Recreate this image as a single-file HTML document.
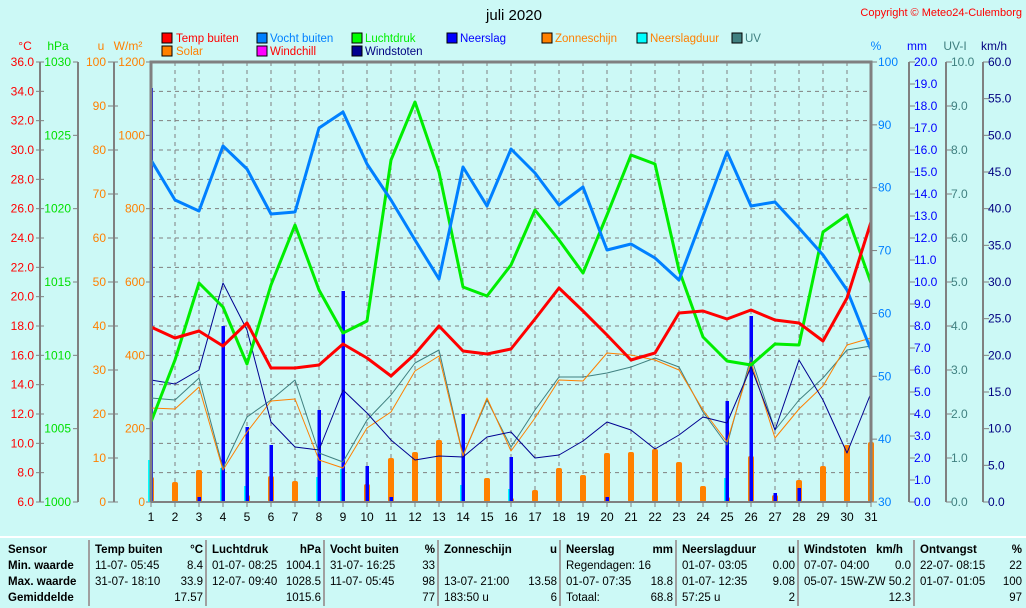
<!DOCTYPE html>
<html><head><meta charset="utf-8"><style>
body{margin:0;background:#ccf9f6;width:1026px;height:608px;overflow:hidden;font-family:"Liberation Sans",Arial,sans-serif}
svg{position:absolute;left:0;top:0}
.tb{position:absolute;left:0;top:536px;width:1026px;height:72px;font-size:11.5px}
.col{position:absolute;top:4px;height:66px;border-left:2px solid #a0a0a0}
.r{position:absolute;white-space:nowrap}
</style></head><body>
<svg width="1026" height="608" font-family="Liberation Sans, Arial, sans-serif" font-size="12">
<text x="514" y="20" font-size="15" text-anchor="middle">juli 2020</text>
<text x="1022" y="16" font-size="11" fill="#ff0000" text-anchor="end">Copyright © Meteo24-Culemborg</text>
<g font-size="11.5">
<rect x="162" y="33" width="10" height="10" fill="#ff0000" stroke="#000"/><text x="176" y="42" fill="#ff0000">Temp buiten</text>
<rect x="257" y="33" width="10" height="10" fill="#0080ff" stroke="#000"/><text x="270" y="42" fill="#0080ff">Vocht buiten</text>
<rect x="352" y="33" width="10" height="10" fill="#00ff00" stroke="#000"/><text x="365" y="42" fill="#00ee00">Luchtdruk</text>
<rect x="447" y="33" width="10" height="10" fill="#0000ff" stroke="#000"/><text x="460" y="42" fill="#0000ff">Neerslag</text>
<rect x="542" y="33" width="10" height="10" fill="#ff8000" stroke="#000"/><text x="555" y="42" fill="#ff8000">Zonneschijn</text>
<rect x="637" y="33" width="10" height="10" fill="#00ffff" stroke="#000"/><text x="650" y="42" fill="#ff8000">Neerslagduur</text>
<rect x="732" y="33" width="10" height="10" fill="#408080" stroke="#000"/><text x="745" y="42" fill="#408080">UV</text>
<rect x="162" y="46" width="10" height="10" fill="#ff8000" stroke="#000"/><text x="176" y="55" fill="#ff8000">Solar</text>
<rect x="257" y="46" width="10" height="10" fill="#ff00ff" stroke="#000"/><text x="270" y="55" fill="#ff0000">Windchill</text>
<rect x="352" y="46" width="10" height="10" fill="#000090" stroke="#000"/><text x="365" y="55" fill="#000080">Windstoten</text>
</g>
<g font-size="12">
<text x="25" y="50" fill="#ff0000" text-anchor="middle">°C</text>
<text x="58" y="50" fill="#00e000" text-anchor="middle">hPa</text>
<text x="101" y="50" fill="#ff8000" text-anchor="middle">u</text>
<text x="128" y="50" fill="#ff8000" text-anchor="middle">W/m²</text>
<text x="876" y="50" fill="#0080ff" text-anchor="middle">%</text>
<text x="917" y="50" fill="#0000ff" text-anchor="middle">mm</text>
<text x="955" y="50" fill="#408080" text-anchor="middle">UV-I</text>
<text x="994" y="50" fill="#000080" text-anchor="middle">km/h</text>
</g>
<g id="g"></g>
<g font-size="12" fill="#ff0000" text-anchor="end">
<text x="34" y="66">36.0</text><text x="34" y="95.3">34.0</text><text x="34" y="124.7">32.0</text><text x="34" y="154">30.0</text><text x="34" y="183.3">28.0</text><text x="34" y="212.7">26.0</text><text x="34" y="242">24.0</text><text x="34" y="271.3">22.0</text><text x="34" y="300.7">20.0</text><text x="34" y="330">18.0</text><text x="34" y="359.3">16.0</text><text x="34" y="388.7">14.0</text><text x="34" y="418">12.0</text><text x="34" y="447.3">10.0</text><text x="34" y="476.7">8.0</text><text x="34" y="506">6.0</text>
</g>
<g font-size="12" fill="#00e000" text-anchor="end">
<text x="71" y="66">1030</text><text x="71" y="139.3">1025</text><text x="71" y="212.7">1020</text><text x="71" y="286">1015</text><text x="71" y="359.3">1010</text><text x="71" y="432.7">1005</text><text x="71" y="506">1000</text>
</g>
<g font-size="12" fill="#ff8000" text-anchor="end">
<text x="106" y="66">100</text><text x="106" y="110">90</text><text x="106" y="154">80</text><text x="106" y="198">70</text><text x="106" y="242">60</text><text x="106" y="286">50</text><text x="106" y="330">40</text><text x="106" y="374">30</text><text x="106" y="418">20</text><text x="106" y="462">10</text><text x="106" y="506">0</text>
<text x="145" y="66">1200</text><text x="145" y="139.3">1000</text><text x="145" y="212.7">800</text><text x="145" y="286">600</text><text x="145" y="359.3">400</text><text x="145" y="432.7">200</text><text x="145" y="506">0</text>
</g>
<g font-size="12" fill="#0080ff">
<text x="878" y="66">100</text><text x="878" y="128.9">90</text><text x="878" y="191.7">80</text><text x="878" y="254.6">70</text><text x="878" y="317.4">60</text><text x="878" y="380.3">50</text><text x="878" y="443.1">40</text><text x="878" y="506">30</text>
</g>
<g font-size="12" fill="#0000ff">
<text x="914" y="66">20.0</text><text x="914" y="88">19.0</text><text x="914" y="110">18.0</text><text x="914" y="132">17.0</text><text x="914" y="154">16.0</text><text x="914" y="176">15.0</text><text x="914" y="198">14.0</text><text x="914" y="220">13.0</text><text x="914" y="242">12.0</text><text x="914" y="264">11.0</text><text x="914" y="286">10.0</text><text x="914" y="308">9.0</text><text x="914" y="330">8.0</text><text x="914" y="352">7.0</text><text x="914" y="374">6.0</text><text x="914" y="396">5.0</text><text x="914" y="418">4.0</text><text x="914" y="440">3.0</text><text x="914" y="462">2.0</text><text x="914" y="484">1.0</text><text x="914" y="506">0.0</text>
</g>
<g font-size="12" fill="#408080">
<text x="951" y="66">10.0</text><text x="951" y="110">9.0</text><text x="951" y="154">8.0</text><text x="951" y="198">7.0</text><text x="951" y="242">6.0</text><text x="951" y="286">5.0</text><text x="951" y="330">4.0</text><text x="951" y="374">3.0</text><text x="951" y="418">2.0</text><text x="951" y="462">1.0</text><text x="951" y="506">0.0</text>
</g>
<g font-size="12" fill="#000080">
<text x="988" y="66">60.0</text><text x="988" y="102.7">55.0</text><text x="988" y="139.3">50.0</text><text x="988" y="176">45.0</text><text x="988" y="212.7">40.0</text><text x="988" y="249.3">35.0</text><text x="988" y="286">30.0</text><text x="988" y="322.7">25.0</text><text x="988" y="359.3">20.0</text><text x="988" y="396">15.0</text><text x="988" y="432.7">10.0</text><text x="988" y="469.3">5.0</text><text x="988" y="506">0.0</text>
</g>
<g font-size="12" text-anchor="middle">
<text x="151" y="521">1</text><text x="175" y="521">2</text><text x="199" y="521">3</text><text x="223" y="521">4</text><text x="247" y="521">5</text><text x="271" y="521">6</text><text x="295" y="521">7</text><text x="319" y="521">8</text><text x="343" y="521">9</text><text x="367" y="521">10</text><text x="391" y="521">11</text><text x="415" y="521">12</text><text x="439" y="521">13</text><text x="463" y="521">14</text><text x="487" y="521">15</text><text x="511" y="521">16</text><text x="535" y="521">17</text><text x="559" y="521">18</text><text x="583" y="521">19</text><text x="607" y="521">20</text><text x="631" y="521">21</text><text x="655" y="521">22</text><text x="679" y="521">23</text><text x="703" y="521">24</text><text x="727" y="521">25</text><text x="751" y="521">26</text><text x="775" y="521">27</text><text x="799" y="521">28</text><text x="823" y="521">29</text><text x="847" y="521">30</text><text x="871" y="521">31</text>
</g>
</svg>
<div class="tb">
<div style="position:absolute;left:0;top:0;width:1026px;border-top:2px solid #fff"></div>
<div class="r" style="left:8px;top:8px;font-weight:bold">Sensor</div>
<div class="r" style="left:8px;top:24px;font-weight:bold">Min. waarde</div>
<div class="r" style="left:8px;top:40px;font-weight:bold">Max. waarde</div>
<div class="r" style="left:8px;top:56px;font-weight:bold">Gemiddelde</div>
<div class="col" style="left:88px;width:115px">
<div class="r" style="left:5px;top:4px;font-weight:bold">Temp buiten</div><div class="r" style="right:2px;top:4px;font-weight:bold">°C</div>
<div class="r" style="left:5px;top:20px">11-07- 05:45</div><div class="r" style="right:2px;top:20px">8.4</div>
<div class="r" style="left:5px;top:36px">31-07- 18:10</div><div class="r" style="right:2px;top:36px">33.9</div>
<div class="r" style="right:2px;top:52px">17.57</div></div>
<div class="col" style="left:205px;width:116px">
<div class="r" style="left:5px;top:4px;font-weight:bold">Luchtdruk</div><div class="r" style="right:2px;top:4px;font-weight:bold">hPa</div>
<div class="r" style="left:5px;top:20px">01-07- 08:25</div><div class="r" style="right:2px;top:20px">1004.1</div>
<div class="r" style="left:5px;top:36px">12-07- 09:40</div><div class="r" style="right:2px;top:36px">1028.5</div>
<div class="r" style="right:2px;top:52px">1015.6</div></div>
<div class="col" style="left:323px;width:112px">
<div class="r" style="left:5px;top:4px;font-weight:bold">Vocht buiten</div><div class="r" style="right:2px;top:4px;font-weight:bold">%</div>
<div class="r" style="left:5px;top:20px">31-07- 16:25</div><div class="r" style="right:2px;top:20px">33</div>
<div class="r" style="left:5px;top:36px">11-07- 05:45</div><div class="r" style="right:2px;top:36px">98</div>
<div class="r" style="right:2px;top:52px">77</div></div>
<div class="col" style="left:437px;width:120px">
<div class="r" style="left:5px;top:4px;font-weight:bold">Zonneschijn</div><div class="r" style="right:2px;top:4px;font-weight:bold">u</div>
<div class="r" style="left:5px;top:36px">13-07- 21:00</div><div class="r" style="right:2px;top:36px">13.58</div>
<div class="r" style="left:5px;top:52px">183:50 u</div><div class="r" style="right:2px;top:52px">6</div></div>
<div class="col" style="left:559px;width:114px">
<div class="r" style="left:5px;top:4px;font-weight:bold">Neerslag</div><div class="r" style="right:2px;top:4px;font-weight:bold">mm</div>
<div class="r" style="left:5px;top:20px">Regendagen: 16</div>
<div class="r" style="left:5px;top:36px">01-07- 07:35</div><div class="r" style="right:2px;top:36px">18.8</div>
<div class="r" style="left:5px;top:52px">Totaal:</div><div class="r" style="right:2px;top:52px">68.8</div></div>
<div class="col" style="left:675px;width:120px">
<div class="r" style="left:5px;top:4px;font-weight:bold">Neerslagduur</div><div class="r" style="right:2px;top:4px;font-weight:bold">u</div>
<div class="r" style="left:5px;top:20px">01-07- 03:05</div><div class="r" style="right:2px;top:20px">0.00</div>
<div class="r" style="left:5px;top:36px">01-07- 12:35</div><div class="r" style="right:2px;top:36px">9.08</div>
<div class="r" style="left:5px;top:52px">57:25 u</div><div class="r" style="right:2px;top:52px">2</div></div>
<div class="col" style="left:797px;width:114px">
<div class="r" style="left:5px;top:4px;font-weight:bold">Windstoten&nbsp;&nbsp; km/h</div>
<div class="r" style="left:5px;top:20px">07-07- 04:00</div><div class="r" style="right:2px;top:20px">0.0</div>
<div class="r" style="left:5px;top:36px">05-07- 15W-ZW 50.2</div>
<div class="r" style="right:2px;top:52px">12.3</div></div>
<div class="col" style="left:913px;width:109px">
<div class="r" style="left:5px;top:4px;font-weight:bold">Ontvangst</div><div class="r" style="right:2px;top:4px;font-weight:bold">%</div>
<div class="r" style="left:5px;top:20px">22-07- 08:15</div><div class="r" style="right:2px;top:20px">22</div>
<div class="r" style="left:5px;top:36px">01-07- 01:05</div><div class="r" style="right:2px;top:36px">100</div>
<div class="r" style="right:2px;top:52px">97</div></div>
</div>
<script>
var g=document.getElementById('g'),s='';
function X(d){return 151+(d-1)*24;}
for(var d=2;d<=30;d++)s+='<line x1="'+X(d)+'" y1="62" x2="'+X(d)+'" y2="502" stroke="#808080" stroke-dasharray="4,4"/>';
for(var i=1;i<15;i++){var y=62+i*440/15;s+='<line x1="151" y1="'+y+'" x2="871" y2="'+y+'" stroke="#808080" stroke-dasharray="4,4"/>';}
function ax(x,step,n,dir){var t='<line x1="'+x+'" y1="62" x2="'+x+'" y2="502" stroke="#808080" stroke-width="2"/>';for(var i=0;i<=n;i++){var y=62+i*step;t+='<line x1="'+(dir<0?x-6:x)+'" y1="'+y+'" x2="'+(dir<0?x:x+6)+'" y2="'+y+'" stroke="#808080"/>';}return t;}
s+=ax(909,22,20,1)+ax(946,44,10,1)+ax(983,440/12,12,1);
s+='<line x1="40" y1="62" x2="40" y2="502" stroke="#808080" stroke-width="2"/><line x1="78" y1="62" x2="78" y2="502" stroke="#808080" stroke-width="2"/><line x1="114" y1="62" x2="114" y2="502" stroke="#808080" stroke-width="2"/>';
for(var i=0;i<=15;i++){var y=62+i*440/15;s+='<line x1="36" y1="'+y+'" x2="44" y2="'+y+'" stroke="#808080"/>';}
for(var i=0;i<=6;i++){var y=62+i*440/6;s+='<line x1="73" y1="'+y+'" x2="78" y2="'+y+'" stroke="#808080"/><line x1="146" y1="'+y+'" x2="151" y2="'+y+'" stroke="#808080"/>';}
for(var i=0;i<=10;i++){var y=62+i*44;s+='<line x1="108" y1="'+y+'" x2="118" y2="'+y+'" stroke="#808080"/>';}
for(var i=0;i<=7;i++){var y=62+i*440/7;s+='<line x1="871" y1="'+y+'" x2="877" y2="'+y+'" stroke="#808080"/>';}
for(var i=0;i<=30;i++)s+='<line x1="'+X(i+1)+'" y1="502" x2="'+X(i+1)+'" y2="507" stroke="#808080"/>';
var orn={1:477,2:482,3:470,5:495,6:476,7:481,10:484,11:458,12:452,13:440,15:478,16:498,17:490,18:468,19:475,20:453,21:452,22:449,23:462,24:486,25:497,26:456,27:495,28:480,29:466,30:445,31:442};
for(var k in orn)s+='<rect x="'+(X(+k)-3)+'" y="'+orn[k]+'" width="6" height="'+(502-orn[k])+'" rx="2" fill="#ff8000"/>';
var cy={1:460,4:468,5:486,8:477,9:469,14:485,16:489,25:478};
for(var k in cy)s+='<rect x="'+(X(+k)-3)+'" y="'+cy[k]+'" width="5" height="'+(502-cy[k])+'" fill="#00ffff"/>';
var bl={1:88,3:497,4:326,5:427,6:445,8:410,9:291,10:466,11:497,14:414,16:457,20:497,25:401,26:316,27:493,28:488};
for(var k in bl)s+='<rect x="'+(X(+k)-1.5)+'" y="'+bl[k]+'" width="3.5" height="'+(502-bl[k])+'" fill="#0000ff"/>';
function pl(a,c,w){var p=a.map(function(v,i){return X(i+1)+','+v;}).join(' ');return '<polyline points="'+p+'" fill="none" stroke="'+c+'" stroke-width="'+w+'" stroke-linejoin="round"/>';}
s+=pl([398,400,378,468,417,400,380,453,462,420,395,363,350,455,400,447,410,377,377,373,367,358,367,412,445,357,430,400,378,350,346],'#408080',1);
s+=pl([408,409,387,470,432,401,399,460,468,428,412,371,356,456,398,451,418,380,381,353,355,360,370,410,442,362,438,409,386,345,338],'#ff8000',1);
s+=pl([380,384,370,283,330,422,447,450,390,413,440,460,456,457,437,432,458,455,441,422,430,449,435,417,423,367,430,360,400,453,393],'#000090',1);
s+=pl([422,360,283,307,364,285,225,290,333,321,160,102,172,287,296,265,210,240,273,215,155,164,270,337,361,365,344,345,232,215,283],'#00ee00',3);
s+=pl([160,200,211,146,169,214,212,128,112,164,200,240,279,167,206,149,173,205,187,250,244,258,280,216,152,206,202,228,255,290,350],'#0080ff',3);
s+=pl([327,338,331,346,323,368,368,365,344,358,376,354,326,351,354,349,319,288,311,335,360,353,313,311,319,310,320,323,341,298,222],'#ff0000',3);
s+='<polyline points="151,502 151,62 871,62 871,502" fill="none" stroke="#808080" stroke-width="3"/><line x1="151" y1="502" x2="871" y2="502" stroke="#808080" stroke-width="2"/>';
g.innerHTML=s;
</script>
</body></html>
